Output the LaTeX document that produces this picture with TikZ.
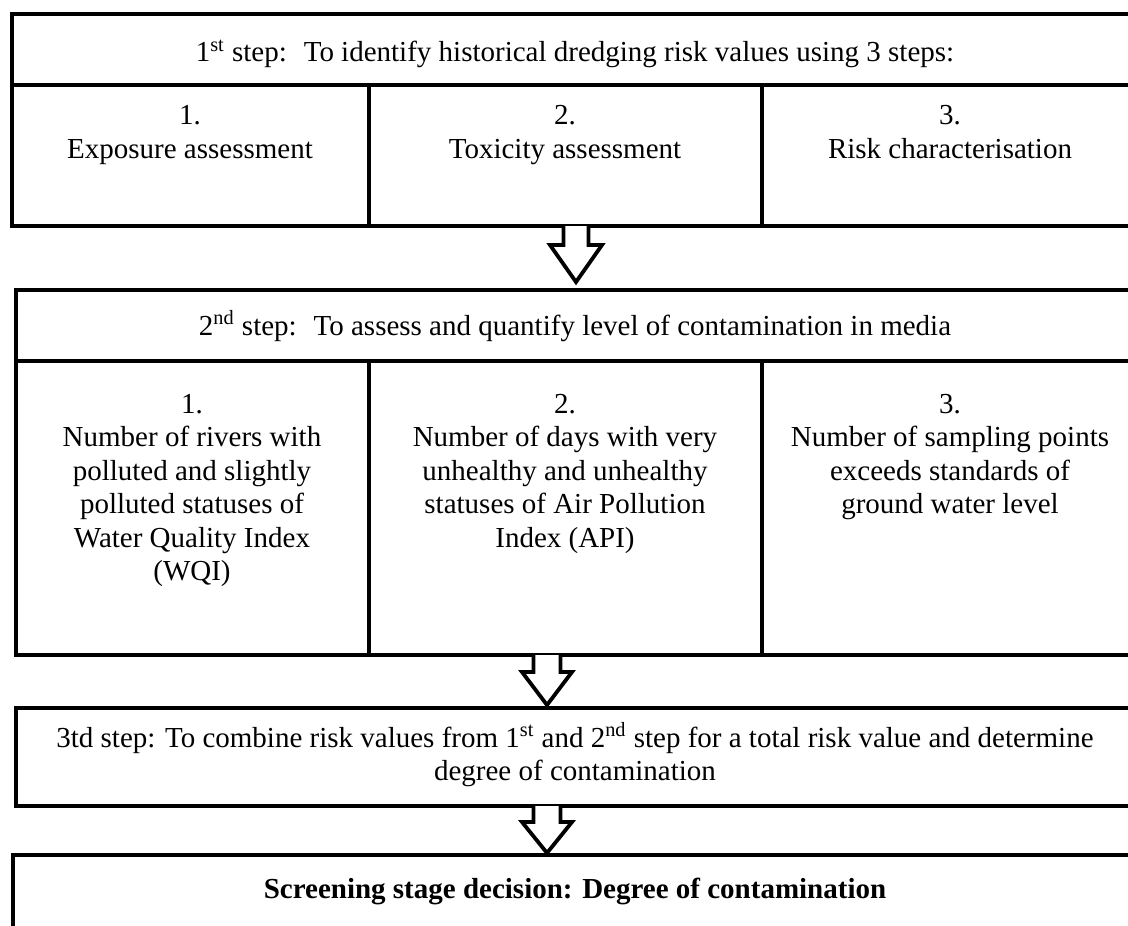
\documentclass[tikz,border=0pt]{standalone}
\usepackage{fontspec}
\setmainfont{Liberation Serif}
\usetikzlibrary{fit}
\begin{document}
\begin{tikzpicture}[x=0.5pt,y=-0.5pt,
  cell/.style={draw=black, line width=2pt, inner sep=0pt},
  txt/.style={font=\fontsize{14.5pt}{16.75pt}\selectfont, align=center, inner sep=0pt, anchor=base},
  blockarrow/.style={draw=black, fill=white, line width=1.9pt, line join=miter}]
\useasboundingbox (0,0) rectangle (1128,925);
\clip (0,0) rectangle (1128,925);

% Multi-line labels are placed by the baseline of their last line.

% ---- step 1 ----
\node[cell, fit={(11.5,14) (1140,85)}] (s1) {};
\node[cell, fit={(11.5,85) (369,226)}] (s1a) {};
\node[cell, fit={(369,85) (762,226)}] (s1b) {};
\node[cell, fit={(762,85) (1140,226)}] (s1c) {};
\node[txt] (s1t) at (575,62) {1\textsuperscript{st} step:~ To identify historical dredging risk values using 3 steps:};
\node[txt] (s1at) at (190,158.5) {1.\\Exposure assessment};
\node[txt] (s1bt) at (565,158.5) {2.\\Toxicity assessment};
\node[txt] (s1ct) at (950,158.5) {3.\\Risk characterisation};

% ---- step 2 ----
\node[cell, fit={(15.5,290) (1140,361)}] (s2) {};
\node[cell, fit={(15.5,361) (369,655)}] (s2a) {};
\node[cell, fit={(369,361) (762,655)}] (s2b) {};
\node[cell, fit={(762,361) (1140,655)}] (s2c) {};
\node[txt] (s2t) at (575,335) {2\textsuperscript{nd} step:~ To assess and quantify level of contamination in media};
\node[txt] (s2at) at (192,580.5) {1.\\Number of rivers with\\polluted and slightly\\polluted statuses of\\Water Quality Index\\(WQI)};
\node[txt] (s2bt) at (565,547) {2.\\Number of days with very\\unhealthy and unhealthy\\statuses of Air Pollution\\Index (API)};
\node[txt] (s2ct) at (950,513.5) {3.\\Number of sampling points\\exceeds standards of\\ground water level};

% ---- step 3 ----
\node[cell, fit={(15.5,708) (1140,806)}] (s3) {};
\node[txt] (s3t) at (575,780.5) {3td step: To combine risk values from 1\textsuperscript{st} and 2\textsuperscript{nd} step for a total risk value and determine\\degree of contamination};

% ---- decision ----
\node[cell, fit={(13,855) (1140,945)}] (s4) {};
\node[txt, font=\fontsize{14.5pt}{16.75pt}\selectfont\bfseries] (s4t) at (575,898) {Screening stage decision: Degree of contamination};

% ---- block arrows between stages ----
\coordinate (a1) at (576,226);
\coordinate (a2) at (547,655);
\coordinate (a3) at (547,806);
\draw[blockarrow] (a1) ++(-12.5,0) -- ++(0,19) -- ++(-13.5,0) -- ++(26,37) -- ++(26,-37) -- ++(-13.5,0) -- ++(0,-19);
\draw[blockarrow] (a2) ++(-13.5,0) -- ++(0,17) -- ++(-11.5,0) -- ++(25,33) -- ++(25,-33) -- ++(-11.5,0) -- ++(0,-17);
\draw[blockarrow] (a3) ++(-13.5,0) -- ++(0,16) -- ++(-11.5,0) -- ++(25,31) -- ++(25,-31) -- ++(-11.5,0) -- ++(0,-16);
\end{tikzpicture}
\end{document}
